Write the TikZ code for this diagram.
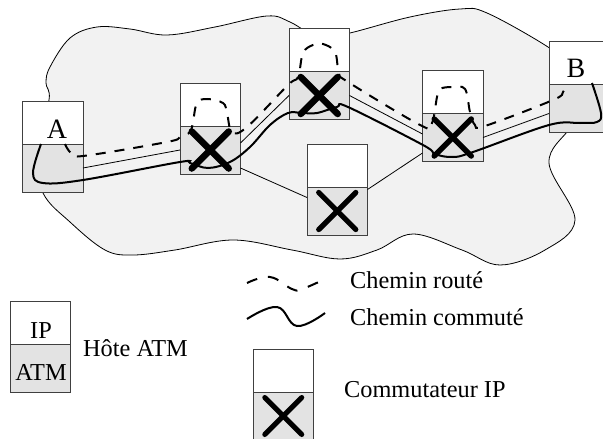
\documentclass[tikz,border=0pt]{standalone}
\usepackage{fontspec}
\setmainfont{Liberation Serif}
\newcommand{\stackbox}[3]{%
  \node[topbox] (#1t) at (#2,#3) {};
  \node[lowbox] (#1b) at (#2,#3+43) {};
}
\newcommand{\crossmark}[2]{%
  \draw[crossline,line width=#2] ([xshift=-18.5pt,yshift=18.5pt]#1b.center) -- ([xshift=18.5pt,yshift=-18.5pt]#1b.center);
  \draw[crossline,line width=#2] ([xshift=18.5pt,yshift=18.5pt]#1b.center) -- ([xshift=-18.5pt,yshift=-18.5pt]#1b.center);
}
\tikzset{
  topbox/.style={draw=black!75,fill=white,line width=0.9pt,anchor=north west,minimum width=60.5pt,minimum height=43pt,inner sep=0pt,outer sep=0pt},
  lowbox/.style={draw=black!75,fill=black!11,line width=0.9pt,anchor=north west,minimum width=60.5pt,minimum height=48pt,inner sep=0pt,outer sep=0pt},
  crossline/.style={line cap=round,black},
  thinlink/.style={line width=0.8pt,black},
  routed/.style={line width=2pt,dash pattern=on 10pt off 9pt,black},
  switched/.style={line width=2pt,black},
  label/.style={anchor=base,inner sep=0pt,font=\fontsize{24.3}{24}\selectfont},
  biglabel/.style={anchor=base,inner sep=0pt,font=\fontsize{28}{28}\selectfont},
  lefttext/.style={anchor=base west,inner sep=0pt,font=\fontsize{24.3}{24}\selectfont}
}
\begin{document}
\begin{tikzpicture}[x=1pt,y=-1pt]
\useasboundingbox (0,0) rectangle (603,439);
% cloud
\draw[fill=black!5,line width=0.8pt] plot[smooth cycle,tension=0.6] coordinates {
 (46,83) (50,67) (70,38) (97,27) (130,29) (167,35) (215,27) (267,16) (290,22) (320,38) (350,33)
 (410,17) (460,9) (487,13) (548,47) (575,70) (590,100) (570,128) (549,163) (575,220) (545,250) (500,265)
 (462,250) (413,234) (377,250) (340,259) (292,250) (233,240) (175,250) (133,255) (105,250)
 (70,222) (43,193) (35,150) (49,100)};
% boxes
\stackbox{A}{22.5}{101}
\stackbox{S1}{180}{83}
\stackbox{S2}{289}{28.5}
\stackbox{S3}{307}{144}
\stackbox{S4}{422.5}{70.5}
\stackbox{B}{549}{41}
% thin links
\draw[thinlink] ([yshift=0pt]Ab.east) -- ([yshift=0pt]S1b.west);
\draw[thinlink] ([yshift=7pt]S1b.east) -- ([yshift=0pt]S2b.west);
\draw[thinlink] ([yshift=0pt]S2b.east) -- ([yshift=3.5pt]S4b.west);
\draw[thinlink] ([yshift=0pt]S4b.east) -- ([yshift=-5.5pt]Bb.west);
\draw[thinlink] ([yshift=-18pt]S1b.east) -- ([yshift=13.5pt]S3b.west);
\draw[thinlink] ([yshift=21.5pt]S3b.east) -- ([yshift=-15.5pt]S4b.west);
% routed path
\draw[routed] plot[smooth,tension=0.6] coordinates {
 (65,144) (71,153) (83,156) (167,142) (180,137) (190,132) (193,122) (197,103) (207,99) (223,103) (227,113)
 (232,132) (247,127) (288,85) (298,77) (303,53) (313,45) (323,44) (335,52) (339,73) (348,82) (422,126) (432,123)
 (437,97) (440,89) (452,87) (465,89) (470,112) (475,125) (485,126) (553,100) (563,92) (568,83)};
% switched path
\draw[switched] plot[smooth,tension=0.6] coordinates {
 (41,144) (33,173) (43,183) (83,180) (180,162) (190,163) (208,168) (230,162) (250,147) (270,125) (288,113) (302,113)
 (317,113) (337,107) (348,107) (423,145) (435,154) (453,157) (473,152) (549,125) (580,123) (597,122) (601,113) (592,83)};
% crosses
\crossmark{S1}{6.5pt}
\crossmark{S2}{6.5pt}
\crossmark{S3}{5.3pt}
\crossmark{S4}{5.5pt}
% labels
\node[biglabel] (lA) at (57,138.5) {A};
\node[biglabel] (lB) at (576,77) {B};
% legend host
\stackbox{H}{10}{301}
\node[label] (lIP) at (41,338) {IP};
\node[label] (lATM) at (41,380) {ATM};
\node[lefttext] (lhote) at (83,356) {Hôte ATM};
% legend paths
\draw[routed,dash pattern=on 11pt off 11pt] plot[smooth,tension=0.7] coordinates {(247,283) (270,277) (292,289) (302,289) (325,279)};
\draw[switched] plot[smooth,tension=0.7] coordinates {(247,319) (277,307) (297,326) (325,313)};
\node[lefttext] (lroute) at (350,288) {Chemin routé};
\node[lefttext] (lcommute) at (350,325) {Chemin commuté};
% legend switch
\stackbox{L}{253}{349}
\crossmark{L}{5pt}
\node[lefttext] (lcommut) at (344,397) {Commutateur IP};
\end{tikzpicture}
\end{document}
